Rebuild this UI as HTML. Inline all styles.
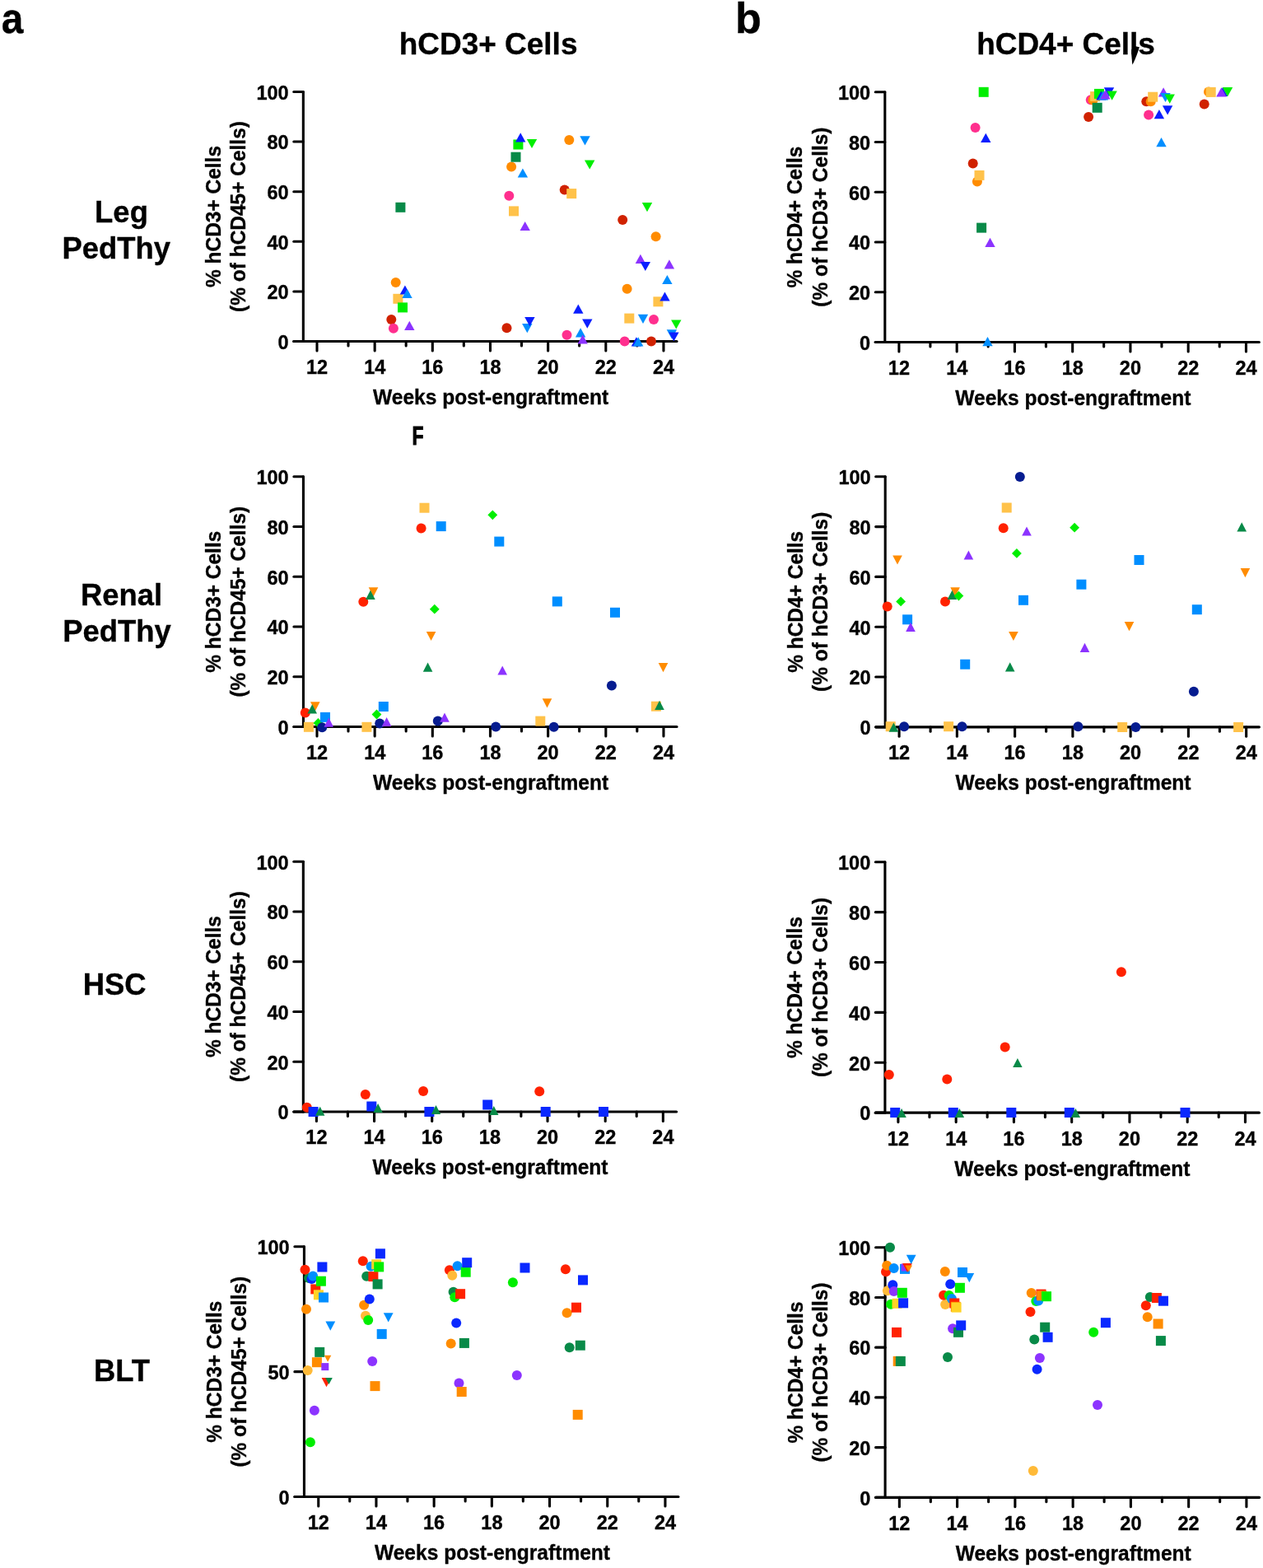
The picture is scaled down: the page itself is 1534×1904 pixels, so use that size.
<!DOCTYPE html><html><head><meta charset="utf-8"><title>Figure</title><style>html,body{margin:0;padding:0;background:#fff;}svg{display:block;}</style></head><body>
<svg width="1534" height="1904" viewBox="0 0 1534 1904">
<rect width="1534" height="1904" fill="#fff"/>
<g font-family="'Liberation Sans', Arial, Helvetica, sans-serif" font-weight="bold" stroke="#000" stroke-width="0.35" fill="#000">
<text transform="translate(1.8,40) scale(0.92,1)" font-size="52">a</text>
<text x="893.0" y="40" font-size="52">b</text>
<text transform="translate(593.1,66.4) scale(0.986,1)" font-size="37.5" text-anchor="middle">hCD3+ Cells</text>
<text transform="translate(1294.5,66.4) scale(0.986,1)" font-size="37.5" text-anchor="middle">hCD4+ Cells</text>
<text transform="translate(147.5,269.9) scale(0.985,1)" font-size="37" text-anchor="middle">Leg</text>
<text transform="translate(141.3,313.9) scale(0.985,1)" font-size="37" text-anchor="middle">PedThy</text>
<text transform="translate(147.5,734.6) scale(0.985,1)" font-size="37" text-anchor="middle">Renal</text>
<text transform="translate(142.0,779.2) scale(0.985,1)" font-size="37" text-anchor="middle">PedThy</text>
<text transform="translate(139.2,1208.4) scale(0.985,1)" font-size="37" text-anchor="middle">HSC</text>
<text transform="translate(148.0,1676.5) scale(0.985,1)" font-size="37" text-anchor="middle">BLT</text>
<text transform="translate(500.5,539.7) scale(0.74,1)" font-size="31" stroke-width="1.0">F</text>
</g>
<polygon points="1379.4,56.2 1383.9,57.2 1382.7,61 1380.8,66.5 1378.6,72 1376.5,76.6 1375.3,78.4 1374.9,74 1374.4,68 1374.2,64 1374.3,60" fill="#000"/>
<g stroke="#000" stroke-width="3.1" stroke-linecap="round" fill="none"><line x1="368.35" y1="111.45" x2="368.35" y2="414.55"/><line x1="356.80" y1="414.55" x2="368.35" y2="414.55"/><line x1="356.80" y1="353.93" x2="368.35" y2="353.93"/><line x1="356.80" y1="293.31" x2="368.35" y2="293.31"/><line x1="356.80" y1="232.69" x2="368.35" y2="232.69"/><line x1="356.80" y1="172.07" x2="368.35" y2="172.07"/><line x1="356.80" y1="111.45" x2="368.35" y2="111.45"/><line x1="356.80" y1="414.55" x2="822.05" y2="414.55"/><line x1="385.00" y1="414.55" x2="385.00" y2="426.00"/><line x1="423.00" y1="414.55" x2="423.00" y2="420.00"/><line x1="455.16" y1="414.55" x2="455.16" y2="426.00"/><line x1="493.16" y1="414.55" x2="493.16" y2="420.00"/><line x1="525.32" y1="414.55" x2="525.32" y2="426.00"/><line x1="563.32" y1="414.55" x2="563.32" y2="420.00"/><line x1="595.48" y1="414.55" x2="595.48" y2="426.00"/><line x1="633.48" y1="414.55" x2="633.48" y2="420.00"/><line x1="665.64" y1="414.55" x2="665.64" y2="426.00"/><line x1="703.64" y1="414.55" x2="703.64" y2="420.00"/><line x1="735.80" y1="414.55" x2="735.80" y2="426.00"/><line x1="773.80" y1="414.55" x2="773.80" y2="420.00"/><line x1="805.96" y1="414.55" x2="805.96" y2="426.00"/></g>
<g font-family="'Liberation Sans', Arial, Helvetica, sans-serif" font-weight="bold" stroke="#000" stroke-width="0.35" font-size="23.5" letter-spacing="0" fill="#000"><text x="350.70" y="423.85" text-anchor="end">0</text><text x="350.70" y="363.23" text-anchor="end">20</text><text x="350.70" y="302.61" text-anchor="end">40</text><text x="350.70" y="241.99" text-anchor="end">60</text><text x="350.70" y="181.37" text-anchor="end">80</text><text x="350.70" y="120.75" text-anchor="end">100</text><text x="385.0" y="453.9" text-anchor="middle">12</text><text x="455.2" y="453.9" text-anchor="middle">14</text><text x="525.3" y="453.9" text-anchor="middle">16</text><text x="595.5" y="453.9" text-anchor="middle">18</text><text x="665.6" y="453.9" text-anchor="middle">20</text><text x="735.8" y="453.9" text-anchor="middle">22</text><text x="806.0" y="453.9" text-anchor="middle">24</text></g>
<text font-family="'Liberation Sans', Arial, Helvetica, sans-serif" font-weight="bold" stroke="#000" stroke-width="0.35" font-size="26" transform="translate(596.1,490.9) scale(0.945,1)" text-anchor="middle">Weeks post-engraftment</text>
<g font-family="'Liberation Sans', Arial, Helvetica, sans-serif" font-weight="bold" stroke="#000" stroke-width="0.35" font-size="25.5" text-anchor="middle"><text transform="translate(267.8,263.0) rotate(-90) scale(0.96,1)">% hCD3+ Cells</text><text transform="translate(298.1,263.0) rotate(-90) scale(0.96,1)">(% of hCD45+ Cells)</text></g>
<g><circle cx="475.3" cy="387.9" r="6.00" fill="#D02200"/><circle cx="615.5" cy="398.2" r="6.00" fill="#D02200"/><circle cx="685.7" cy="230.6" r="6.00" fill="#D02200"/><circle cx="756.2" cy="267.0" r="6.00" fill="#D02200"/><circle cx="791.0" cy="414.6" r="6.00" fill="#D02200"/><circle cx="477.9" cy="398.7" r="6.00" fill="#FF2F8E"/><circle cx="618.3" cy="237.7" r="6.00" fill="#FF2F8E"/><circle cx="688.5" cy="406.7" r="6.00" fill="#FF2F8E"/><circle cx="794.0" cy="387.9" r="6.00" fill="#FF2F8E"/><circle cx="758.7" cy="414.6" r="6.00" fill="#FF2F8E"/><circle cx="480.7" cy="342.9" r="6.00" fill="#FF8C00"/><circle cx="621.1" cy="202.5" r="6.00" fill="#FF8C00"/><circle cx="691.3" cy="169.9" r="6.00" fill="#FF8C00"/><circle cx="796.6" cy="287.3" r="6.00" fill="#FF8C00"/><circle cx="761.6" cy="350.7" r="6.00" fill="#FF8C00"/><rect x="477.4" y="356.8" width="12.0" height="12.0" fill="#FFC24A"/><rect x="618.0" y="250.4" width="12.0" height="12.0" fill="#FFC24A"/><rect x="688.2" y="229.1" width="12.0" height="12.0" fill="#FFC24A"/><rect x="793.4" y="360.3" width="12.0" height="12.0" fill="#FFC24A"/><rect x="758.3" y="380.6" width="12.0" height="12.0" fill="#FFC24A"/><rect x="480.4" y="245.8" width="12.0" height="12.0" fill="#088A48"/><rect x="620.5" y="184.7" width="12.0" height="12.0" fill="#088A48"/><rect x="483.0" y="367.4" width="12.0" height="12.0" fill="#00EE00"/><rect x="623.4" y="169.5" width="12.0" height="12.0" fill="#00EE00"/><polygon points="491.9,346.4 498.1,357.6 485.7,357.6" fill="#0A1EFF"/><polygon points="632.2,161.2 638.4,172.4 626.0,172.4" fill="#0A1EFF"/><polygon points="702.3,369.6 708.5,380.8 696.1,380.8" fill="#0A1EFF"/><polygon points="807.5,354.4 813.7,365.6 801.3,365.6" fill="#0A1EFF"/><polygon points="772.9,409.3 779.1,420.5 766.7,420.5" fill="#0A1EFF"/><polygon points="494.5,350.9 500.7,362.1 488.3,362.1" fill="#008EFF"/><polygon points="634.9,204.4 641.1,215.6 628.7,215.6" fill="#008EFF"/><polygon points="705.1,398.3 711.3,409.5 698.9,409.5" fill="#008EFF"/><polygon points="810.4,333.9 816.6,345.1 804.2,345.1" fill="#008EFF"/><polygon points="775.2,409.3 781.4,420.5 769.0,420.5" fill="#008EFF"/><polygon points="497.3,389.7 503.5,400.9 491.1,400.9" fill="#8C33FF"/><polygon points="637.7,268.9 643.9,280.1 631.5,280.1" fill="#8C33FF"/><polygon points="707.7,406.4 713.9,417.6 701.5,417.6" fill="#8C33FF"/><polygon points="777.9,308.7 784.1,319.9 771.7,319.9" fill="#8C33FF"/><polygon points="812.9,315.3 819.1,326.5 806.7,326.5" fill="#8C33FF"/><polygon points="634.1,393.0 646.5,393.0 640.3,404.2" fill="#008EFF"/><polygon points="704.3,165.3 716.7,165.3 710.5,176.5" fill="#008EFF"/><polygon points="774.8,381.7 787.2,381.7 781.0,392.9" fill="#008EFF"/><polygon points="809.7,400.2 822.1,400.2 815.9,411.4" fill="#008EFF"/><polygon points="637.2,385.1 649.6,385.1 643.4,396.3" fill="#0A1EFF"/><polygon points="707.1,387.6 719.5,387.6 713.3,398.8" fill="#0A1EFF"/><polygon points="777.6,317.9 790.0,317.9 783.8,329.1" fill="#0A1EFF"/><polygon points="812.2,403.4 824.6,403.4 818.4,414.6" fill="#0A1EFF"/><polygon points="639.8,168.9 652.2,168.9 646.0,180.1" fill="#00EE00"/><polygon points="710.0,194.4 722.4,194.4 716.2,205.6" fill="#00EE00"/><polygon points="779.8,246.0 792.2,246.0 786.0,257.2" fill="#00EE00"/><polygon points="815.1,388.4 827.5,388.4 821.3,399.6" fill="#00EE00"/></g>
<g stroke="#000" stroke-width="3.1" stroke-linecap="round" fill="none"><line x1="1074.8" y1="111.75" x2="1074.8" y2="415.45"/><line x1="1063.25" y1="415.45" x2="1074.8" y2="415.45"/><line x1="1063.25" y1="354.71" x2="1074.8" y2="354.71"/><line x1="1063.25" y1="293.97" x2="1074.8" y2="293.97"/><line x1="1063.25" y1="233.23" x2="1074.8" y2="233.23"/><line x1="1063.25" y1="172.49" x2="1074.8" y2="172.49"/><line x1="1063.25" y1="111.75" x2="1074.8" y2="111.75"/><line x1="1063.25" y1="415.45" x2="1529.35" y2="415.45"/><line x1="1091.90" y1="415.45" x2="1091.90" y2="426.90"/><line x1="1129.90" y1="415.45" x2="1129.90" y2="420.90"/><line x1="1162.16" y1="415.45" x2="1162.16" y2="426.90"/><line x1="1200.16" y1="415.45" x2="1200.16" y2="420.90"/><line x1="1232.42" y1="415.45" x2="1232.42" y2="426.90"/><line x1="1270.42" y1="415.45" x2="1270.42" y2="420.90"/><line x1="1302.68" y1="415.45" x2="1302.68" y2="426.90"/><line x1="1340.68" y1="415.45" x2="1340.68" y2="420.90"/><line x1="1372.94" y1="415.45" x2="1372.94" y2="426.90"/><line x1="1410.94" y1="415.45" x2="1410.94" y2="420.90"/><line x1="1443.20" y1="415.45" x2="1443.20" y2="426.90"/><line x1="1481.20" y1="415.45" x2="1481.20" y2="420.90"/><line x1="1513.46" y1="415.45" x2="1513.46" y2="426.90"/></g>
<g font-family="'Liberation Sans', Arial, Helvetica, sans-serif" font-weight="bold" stroke="#000" stroke-width="0.35" font-size="23.5" letter-spacing="0" fill="#000"><text x="1057.15" y="424.75" text-anchor="end">0</text><text x="1057.15" y="364.01" text-anchor="end">20</text><text x="1057.15" y="303.27" text-anchor="end">40</text><text x="1057.15" y="242.53" text-anchor="end">60</text><text x="1057.15" y="181.79" text-anchor="end">80</text><text x="1057.15" y="121.05" text-anchor="end">100</text><text x="1091.9" y="454.8" text-anchor="middle">12</text><text x="1162.2" y="454.8" text-anchor="middle">14</text><text x="1232.4" y="454.8" text-anchor="middle">16</text><text x="1302.7" y="454.8" text-anchor="middle">18</text><text x="1372.9" y="454.8" text-anchor="middle">20</text><text x="1443.2" y="454.8" text-anchor="middle">22</text><text x="1513.5" y="454.8" text-anchor="middle">24</text></g>
<text font-family="'Liberation Sans', Arial, Helvetica, sans-serif" font-weight="bold" stroke="#000" stroke-width="0.35" font-size="26" transform="translate(1303.3,491.8) scale(0.945,1)" text-anchor="middle">Weeks post-engraftment</text>
<g font-family="'Liberation Sans', Arial, Helvetica, sans-serif" font-weight="bold" stroke="#000" stroke-width="0.35" font-size="25.5" text-anchor="middle"><text transform="translate(974.2,263.6) rotate(-90) scale(0.96,1)">% hCD4+ Cells</text><text transform="translate(1004.5,263.6) rotate(-90) scale(0.96,1)">(% of hCD3+ Cells)</text></g>
<g><circle cx="1181.7" cy="198.6" r="6.00" fill="#D02200"/><circle cx="1322.1" cy="142.0" r="6.00" fill="#D02200"/><circle cx="1392.3" cy="123.2" r="6.00" fill="#D02200"/><circle cx="1462.7" cy="126.4" r="6.00" fill="#D02200"/><circle cx="1184.6" cy="155.1" r="6.00" fill="#FF2F8E"/><circle cx="1324.8" cy="121.2" r="6.00" fill="#FF2F8E"/><circle cx="1395.1" cy="139.6" r="6.00" fill="#FF2F8E"/><circle cx="1186.9" cy="220.6" r="6.00" fill="#FF8C00"/><circle cx="1327.5" cy="121.6" r="6.00" fill="#FF8C00"/><circle cx="1397.7" cy="123.2" r="6.00" fill="#FF8C00"/><circle cx="1468.0" cy="111.6" r="6.00" fill="#FF8C00"/><rect x="1183.5" y="206.9" width="12.0" height="12.0" fill="#FFC24A"/><rect x="1324.1" y="111.1" width="12.0" height="12.0" fill="#FFC24A"/><rect x="1394.2" y="111.7" width="12.0" height="12.0" fill="#FFC24A"/><rect x="1464.7" y="105.9" width="12.0" height="12.0" fill="#FFC24A"/><rect x="1186.1" y="270.6" width="12.0" height="12.0" fill="#088A48"/><rect x="1326.7" y="124.8" width="12.0" height="12.0" fill="#088A48"/><rect x="1188.7" y="105.8" width="12.0" height="12.0" fill="#00EE00"/><rect x="1329.0" y="107.9" width="12.0" height="12.0" fill="#00EE00"/><polygon points="1197.3,161.7 1203.5,172.9 1191.1,172.9" fill="#0A1EFF"/><polygon points="1337.5,110.4 1343.7,121.6 1331.3,121.6" fill="#0A1EFF"/><polygon points="1407.9,133.1 1414.1,144.3 1401.7,144.3" fill="#0A1EFF"/><polygon points="1485.0,105.9 1491.2,117.1 1478.8,117.1" fill="#0A1EFF"/><polygon points="1199.5,409.1 1205.7,420.3 1193.3,420.3" fill="#008EFF"/><polygon points="1340.0,110.2 1346.2,121.4 1333.8,121.4" fill="#008EFF"/><polygon points="1410.5,167.1 1416.7,178.3 1404.3,178.3" fill="#008EFF"/><polygon points="1202.5,288.7 1208.7,299.9 1196.3,299.9" fill="#8C33FF"/><polygon points="1342.4,109.2 1348.6,120.4 1336.2,120.4" fill="#8C33FF"/><polygon points="1413.1,106.3 1419.3,117.5 1406.9,117.5" fill="#8C33FF"/><polygon points="1483.4,106.3 1489.6,117.5 1477.2,117.5" fill="#8C33FF"/><polygon points="1409.3,112.9 1421.7,112.9 1415.5,124.1" fill="#008EFF"/><polygon points="1340.8,106.3 1353.2,106.3 1347.0,117.5" fill="#0A1EFF"/><polygon points="1411.9,128.3 1424.3,128.3 1418.1,139.5" fill="#0A1EFF"/><polygon points="1344.4,110.5 1356.8,110.5 1350.6,121.7" fill="#00EE00"/><polygon points="1414.5,114.6 1426.9,114.6 1420.7,125.8" fill="#00EE00"/><polygon points="1484.8,106.0 1497.2,106.0 1491.0,117.2" fill="#00EE00"/></g>
<g stroke="#000" stroke-width="3.1" stroke-linecap="round" fill="none"><line x1="368.45" y1="578.80" x2="368.45" y2="882.55"/><line x1="356.90" y1="882.55" x2="368.45" y2="882.55"/><line x1="356.90" y1="821.80" x2="368.45" y2="821.80"/><line x1="356.90" y1="761.05" x2="368.45" y2="761.05"/><line x1="356.90" y1="700.30" x2="368.45" y2="700.30"/><line x1="356.90" y1="639.55" x2="368.45" y2="639.55"/><line x1="356.90" y1="578.80" x2="368.45" y2="578.80"/><line x1="356.90" y1="882.55" x2="822.05" y2="882.55"/><line x1="385.00" y1="882.55" x2="385.00" y2="894.00"/><line x1="423.00" y1="882.55" x2="423.00" y2="888.00"/><line x1="455.16" y1="882.55" x2="455.16" y2="894.00"/><line x1="493.16" y1="882.55" x2="493.16" y2="888.00"/><line x1="525.32" y1="882.55" x2="525.32" y2="894.00"/><line x1="563.32" y1="882.55" x2="563.32" y2="888.00"/><line x1="595.48" y1="882.55" x2="595.48" y2="894.00"/><line x1="633.48" y1="882.55" x2="633.48" y2="888.00"/><line x1="665.64" y1="882.55" x2="665.64" y2="894.00"/><line x1="703.64" y1="882.55" x2="703.64" y2="888.00"/><line x1="735.80" y1="882.55" x2="735.80" y2="894.00"/><line x1="773.80" y1="882.55" x2="773.80" y2="888.00"/><line x1="805.96" y1="882.55" x2="805.96" y2="894.00"/></g>
<g font-family="'Liberation Sans', Arial, Helvetica, sans-serif" font-weight="bold" stroke="#000" stroke-width="0.35" font-size="23.5" letter-spacing="0" fill="#000"><text x="350.70" y="891.85" text-anchor="end">0</text><text x="350.70" y="831.10" text-anchor="end">20</text><text x="350.70" y="770.35" text-anchor="end">40</text><text x="350.70" y="709.60" text-anchor="end">60</text><text x="350.70" y="648.85" text-anchor="end">80</text><text x="350.70" y="588.10" text-anchor="end">100</text><text x="385.0" y="921.9" text-anchor="middle">12</text><text x="455.2" y="921.9" text-anchor="middle">14</text><text x="525.3" y="921.9" text-anchor="middle">16</text><text x="595.5" y="921.9" text-anchor="middle">18</text><text x="665.6" y="921.9" text-anchor="middle">20</text><text x="735.8" y="921.9" text-anchor="middle">22</text><text x="806.0" y="921.9" text-anchor="middle">24</text></g>
<text font-family="'Liberation Sans', Arial, Helvetica, sans-serif" font-weight="bold" stroke="#000" stroke-width="0.35" font-size="26" transform="translate(596.1,958.8) scale(0.945,1)" text-anchor="middle">Weeks post-engraftment</text>
<g font-family="'Liberation Sans', Arial, Helvetica, sans-serif" font-weight="bold" stroke="#000" stroke-width="0.35" font-size="25.5" text-anchor="middle"><text transform="translate(267.9,730.7) rotate(-90) scale(0.96,1)">% hCD3+ Cells</text><text transform="translate(298.1,730.7) rotate(-90) scale(0.96,1)">(% of hCD45+ Cells)</text></g>
<g><circle cx="441.3" cy="730.7" r="6.00" fill="#FF2200"/><circle cx="370.8" cy="865.6" r="6.00" fill="#FF2200"/><circle cx="511.6" cy="641.5" r="6.00" fill="#FF2200"/><rect x="368.9" y="876.8" width="12.0" height="12.0" fill="#FFC24A"/><rect x="439.4" y="876.8" width="12.0" height="12.0" fill="#FFC24A"/><rect x="509.5" y="610.7" width="12.0" height="12.0" fill="#FFC24A"/><rect x="650.3" y="869.6" width="12.0" height="12.0" fill="#FFC24A"/><rect x="790.9" y="851.7" width="12.0" height="12.0" fill="#FFC24A"/><polygon points="447.7,713.3 459.3,713.3 453.5,724.5" fill="#FF8C00"/><polygon points="377.0,852.2 388.6,852.2 382.8,863.4" fill="#FF8C00"/><polygon points="517.8,766.9 529.4,766.9 523.6,778.1" fill="#FF8C00"/><polygon points="799.7,805.1 811.3,805.1 805.5,816.3" fill="#FF8C00"/><polygon points="658.7,848.3 670.3,848.3 664.5,859.5" fill="#FF8C00"/><polygon points="449.9,716.7 455.7,727.9 444.1,727.9" fill="#088A48"/><polygon points="379.2,855.2 385.0,866.4 373.4,866.4" fill="#088A48"/><polygon points="519.6,804.5 525.4,815.7 513.8,815.7" fill="#088A48"/><polygon points="801.0,850.8 806.8,862.0 795.2,862.0" fill="#088A48"/><polygon points="386.4,872.0 392.3,877.9 386.4,883.8 380.5,877.9" fill="#00EE00"/><polygon points="457.5,861.6 463.4,867.5 457.5,873.4 451.6,867.5" fill="#00EE00"/><polygon points="598.3,619.4 604.2,625.3 598.3,631.2 592.4,625.3" fill="#00EE00"/><polygon points="527.8,733.8 533.7,739.7 527.8,745.6 521.9,739.7" fill="#00EE00"/><rect x="389.0" y="864.9" width="12.0" height="12.0" fill="#008EFF"/><rect x="459.8" y="852.0" width="12.0" height="12.0" fill="#008EFF"/><rect x="529.7" y="633.1" width="12.0" height="12.0" fill="#008EFF"/><rect x="600.3" y="651.6" width="12.0" height="12.0" fill="#008EFF"/><rect x="670.8" y="724.4" width="12.0" height="12.0" fill="#008EFF"/><rect x="741.0" y="737.8" width="12.0" height="12.0" fill="#008EFF"/><circle cx="391.2" cy="883.3" r="6.00" fill="#061C90"/><circle cx="461.2" cy="878.5" r="6.00" fill="#061C90"/><circle cx="531.8" cy="875.5" r="6.00" fill="#061C90"/><circle cx="602.2" cy="882.6" r="6.00" fill="#061C90"/><circle cx="742.9" cy="832.5" r="6.00" fill="#061C90"/><circle cx="672.7" cy="882.8" r="6.00" fill="#061C90"/><polygon points="399.3,871.5 405.1,882.7 393.5,882.7" fill="#8C33FF"/><polygon points="469.6,870.9 475.4,882.1 463.8,882.1" fill="#8C33FF"/><polygon points="610.2,808.4 616.0,819.6 604.4,819.6" fill="#8C33FF"/><polygon points="540.0,865.5 545.8,876.7 534.2,876.7" fill="#8C33FF"/></g>
<g stroke="#000" stroke-width="3.1" stroke-linecap="round" fill="none"><line x1="1075.2" y1="578.80" x2="1075.2" y2="882.85"/><line x1="1063.65" y1="882.85" x2="1075.2" y2="882.85"/><line x1="1063.65" y1="822.04" x2="1075.2" y2="822.04"/><line x1="1063.65" y1="761.23" x2="1075.2" y2="761.23"/><line x1="1063.65" y1="700.42" x2="1075.2" y2="700.42"/><line x1="1063.65" y1="639.61" x2="1075.2" y2="639.61"/><line x1="1063.65" y1="578.80" x2="1075.2" y2="578.80"/><line x1="1063.65" y1="882.85" x2="1529.45" y2="882.85"/><line x1="1092.10" y1="882.85" x2="1092.10" y2="894.30"/><line x1="1130.10" y1="882.85" x2="1130.10" y2="888.30"/><line x1="1162.36" y1="882.85" x2="1162.36" y2="894.30"/><line x1="1200.36" y1="882.85" x2="1200.36" y2="888.30"/><line x1="1232.62" y1="882.85" x2="1232.62" y2="894.30"/><line x1="1270.62" y1="882.85" x2="1270.62" y2="888.30"/><line x1="1302.88" y1="882.85" x2="1302.88" y2="894.30"/><line x1="1340.88" y1="882.85" x2="1340.88" y2="888.30"/><line x1="1373.14" y1="882.85" x2="1373.14" y2="894.30"/><line x1="1411.14" y1="882.85" x2="1411.14" y2="888.30"/><line x1="1443.40" y1="882.85" x2="1443.40" y2="894.30"/><line x1="1481.40" y1="882.85" x2="1481.40" y2="888.30"/><line x1="1513.66" y1="882.85" x2="1513.66" y2="894.30"/></g>
<g font-family="'Liberation Sans', Arial, Helvetica, sans-serif" font-weight="bold" stroke="#000" stroke-width="0.35" font-size="23.5" letter-spacing="0" fill="#000"><text x="1057.70" y="892.15" text-anchor="end">0</text><text x="1057.70" y="831.34" text-anchor="end">20</text><text x="1057.70" y="770.53" text-anchor="end">40</text><text x="1057.70" y="709.72" text-anchor="end">60</text><text x="1057.70" y="648.91" text-anchor="end">80</text><text x="1057.70" y="588.10" text-anchor="end">100</text><text x="1092.1" y="922.2" text-anchor="middle">12</text><text x="1162.4" y="922.2" text-anchor="middle">14</text><text x="1232.6" y="922.2" text-anchor="middle">16</text><text x="1302.9" y="922.2" text-anchor="middle">18</text><text x="1373.1" y="922.2" text-anchor="middle">20</text><text x="1443.4" y="922.2" text-anchor="middle">22</text><text x="1513.7" y="922.2" text-anchor="middle">24</text></g>
<text font-family="'Liberation Sans', Arial, Helvetica, sans-serif" font-weight="bold" stroke="#000" stroke-width="0.35" font-size="26" transform="translate(1303.5,959.1) scale(0.945,1)" text-anchor="middle">Weeks post-engraftment</text>
<g font-family="'Liberation Sans', Arial, Helvetica, sans-serif" font-weight="bold" stroke="#000" stroke-width="0.35" font-size="25.5" text-anchor="middle"><text transform="translate(974.6,730.8) rotate(-90) scale(0.96,1)">% hCD4+ Cells</text><text transform="translate(1004.9,730.8) rotate(-90) scale(0.96,1)">(% of hCD3+ Cells)</text></g>
<g><circle cx="1077.7" cy="736.5" r="6.00" fill="#FF2200"/><circle cx="1148.0" cy="730.6" r="6.00" fill="#FF2200"/><circle cx="1218.7" cy="641.3" r="6.00" fill="#FF2200"/><rect x="1075.7" y="876.2" width="12.0" height="12.0" fill="#FFC24A"/><rect x="1146.1" y="876.2" width="12.0" height="12.0" fill="#FFC24A"/><rect x="1216.7" y="610.5" width="12.0" height="12.0" fill="#FFC24A"/><rect x="1357.2" y="877.0" width="12.0" height="12.0" fill="#FFC24A"/><rect x="1498.1" y="877.0" width="12.0" height="12.0" fill="#FFC24A"/><polygon points="1084.2,674.4 1095.8,674.4 1090.0,685.6" fill="#FF8C00"/><polygon points="1154.3,713.3 1165.9,713.3 1160.1,724.5" fill="#FF8C00"/><polygon points="1225.1,766.9 1236.7,766.9 1230.9,778.1" fill="#FF8C00"/><polygon points="1506.6,690.0 1518.2,690.0 1512.4,701.2" fill="#FF8C00"/><polygon points="1365.7,755.1 1377.3,755.1 1371.5,766.3" fill="#FF8C00"/><polygon points="1085.4,877.5 1091.2,888.7 1079.6,888.7" fill="#088A48"/><polygon points="1156.4,716.7 1162.2,727.9 1150.6,727.9" fill="#088A48"/><polygon points="1226.7,804.2 1232.5,815.4 1220.9,815.4" fill="#088A48"/><polygon points="1508.2,634.3 1514.0,645.5 1502.4,645.5" fill="#088A48"/><polygon points="1094.1,724.5 1100.0,730.4 1094.1,736.3 1088.2,730.4" fill="#00EE00"/><polygon points="1164.4,717.7 1170.3,723.6 1164.4,729.5 1158.5,723.6" fill="#00EE00"/><polygon points="1234.9,666.0 1240.8,671.9 1234.9,677.8 1229.0,671.9" fill="#00EE00"/><polygon points="1305.1,634.8 1311.0,640.7 1305.1,646.6 1299.2,640.7" fill="#00EE00"/><rect x="1096.1" y="746.3" width="12.0" height="12.0" fill="#008EFF"/><rect x="1166.2" y="800.7" width="12.0" height="12.0" fill="#008EFF"/><rect x="1307.4" y="703.7" width="12.0" height="12.0" fill="#008EFF"/><rect x="1237.0" y="722.8" width="12.0" height="12.0" fill="#008EFF"/><rect x="1377.5" y="674.0" width="12.0" height="12.0" fill="#008EFF"/><rect x="1447.8" y="734.2" width="12.0" height="12.0" fill="#008EFF"/><circle cx="1098.1" cy="882.2" r="6.00" fill="#061C90"/><circle cx="1168.5" cy="882.2" r="6.00" fill="#061C90"/><circle cx="1238.8" cy="578.9" r="6.00" fill="#061C90"/><circle cx="1309.4" cy="882.2" r="6.00" fill="#061C90"/><circle cx="1449.9" cy="839.7" r="6.00" fill="#061C90"/><circle cx="1379.4" cy="883.0" r="6.00" fill="#061C90"/><polygon points="1106.0,755.7 1111.8,766.9 1100.2,766.9" fill="#8C33FF"/><polygon points="1176.4,668.4 1182.2,679.6 1170.6,679.6" fill="#8C33FF"/><polygon points="1247.0,639.4 1252.8,650.6 1241.2,650.6" fill="#8C33FF"/><polygon points="1317.5,780.7 1323.3,791.9 1311.7,791.9" fill="#8C33FF"/></g>
<g stroke="#000" stroke-width="3.1" stroke-linecap="round" fill="none"><line x1="368.35" y1="1046.30" x2="368.35" y2="1349.95"/><line x1="356.80" y1="1349.95" x2="368.35" y2="1349.95"/><line x1="356.80" y1="1289.22" x2="368.35" y2="1289.22"/><line x1="356.80" y1="1228.49" x2="368.35" y2="1228.49"/><line x1="356.80" y1="1167.76" x2="368.35" y2="1167.76"/><line x1="356.80" y1="1107.03" x2="368.35" y2="1107.03"/><line x1="356.80" y1="1046.30" x2="368.35" y2="1046.30"/><line x1="356.80" y1="1349.95" x2="821.65" y2="1349.95"/><line x1="384.40" y1="1349.95" x2="384.40" y2="1361.40"/><line x1="422.40" y1="1349.95" x2="422.40" y2="1355.40"/><line x1="454.56" y1="1349.95" x2="454.56" y2="1361.40"/><line x1="492.56" y1="1349.95" x2="492.56" y2="1355.40"/><line x1="524.72" y1="1349.95" x2="524.72" y2="1361.40"/><line x1="562.72" y1="1349.95" x2="562.72" y2="1355.40"/><line x1="594.88" y1="1349.95" x2="594.88" y2="1361.40"/><line x1="632.88" y1="1349.95" x2="632.88" y2="1355.40"/><line x1="665.04" y1="1349.95" x2="665.04" y2="1361.40"/><line x1="703.04" y1="1349.95" x2="703.04" y2="1355.40"/><line x1="735.20" y1="1349.95" x2="735.20" y2="1361.40"/><line x1="773.20" y1="1349.95" x2="773.20" y2="1355.40"/><line x1="805.36" y1="1349.95" x2="805.36" y2="1361.40"/></g>
<g font-family="'Liberation Sans', Arial, Helvetica, sans-serif" font-weight="bold" stroke="#000" stroke-width="0.35" font-size="23.5" letter-spacing="0" fill="#000"><text x="350.70" y="1359.25" text-anchor="end">0</text><text x="350.70" y="1298.52" text-anchor="end">20</text><text x="350.70" y="1237.79" text-anchor="end">40</text><text x="350.70" y="1177.06" text-anchor="end">60</text><text x="350.70" y="1116.33" text-anchor="end">80</text><text x="350.70" y="1055.60" text-anchor="end">100</text><text x="384.4" y="1389.4" text-anchor="middle">12</text><text x="454.6" y="1389.4" text-anchor="middle">14</text><text x="524.7" y="1389.4" text-anchor="middle">16</text><text x="594.9" y="1389.4" text-anchor="middle">18</text><text x="665.0" y="1389.4" text-anchor="middle">20</text><text x="735.2" y="1389.4" text-anchor="middle">22</text><text x="805.4" y="1389.4" text-anchor="middle">24</text></g>
<text font-family="'Liberation Sans', Arial, Helvetica, sans-serif" font-weight="bold" stroke="#000" stroke-width="0.35" font-size="26" transform="translate(595.5,1426.2) scale(0.945,1)" text-anchor="middle">Weeks post-engraftment</text>
<g font-family="'Liberation Sans', Arial, Helvetica, sans-serif" font-weight="bold" stroke="#000" stroke-width="0.35" font-size="25.5" text-anchor="middle"><text transform="translate(267.8,1198.1) rotate(-90) scale(0.96,1)">% hCD3+ Cells</text><text transform="translate(298.1,1198.1) rotate(-90) scale(0.96,1)">(% of hCD45+ Cells)</text></g>
<g><circle cx="372.8" cy="1344.8" r="6.00" fill="#FF2200"/><circle cx="443.8" cy="1329.1" r="6.00" fill="#FF2200"/><circle cx="514.1" cy="1325.0" r="6.00" fill="#FF2200"/><circle cx="655.2" cy="1325.2" r="6.00" fill="#FF2200"/><rect x="374.6" y="1344.0" width="12.0" height="12.0" fill="#0A28FF"/><rect x="445.3" y="1337.5" width="12.0" height="12.0" fill="#0A28FF"/><rect x="515.4" y="1344.0" width="12.0" height="12.0" fill="#0A28FF"/><rect x="586.2" y="1335.5" width="12.0" height="12.0" fill="#0A28FF"/><rect x="656.7" y="1344.0" width="12.0" height="12.0" fill="#0A28FF"/><rect x="727.0" y="1344.0" width="12.0" height="12.0" fill="#0A28FF"/><polygon points="388.7,1343.8 394.4,1354.8 383.0,1354.8" fill="#088A48"/><polygon points="459.1,1339.9 464.8,1350.9 453.4,1350.9" fill="#088A48"/><polygon points="529.5,1341.9 535.2,1352.9 523.8,1352.9" fill="#088A48"/><polygon points="599.8,1343.0 605.5,1354.0 594.1,1354.0" fill="#088A48"/></g>
<g stroke="#000" stroke-width="3.1" stroke-linecap="round" fill="none"><line x1="1074.9" y1="1046.80" x2="1074.9" y2="1351.15"/><line x1="1063.35" y1="1351.15" x2="1074.9" y2="1351.15"/><line x1="1063.35" y1="1290.28" x2="1074.9" y2="1290.28"/><line x1="1063.35" y1="1229.41" x2="1074.9" y2="1229.41"/><line x1="1063.35" y1="1168.54" x2="1074.9" y2="1168.54"/><line x1="1063.35" y1="1107.67" x2="1074.9" y2="1107.67"/><line x1="1063.35" y1="1046.80" x2="1074.9" y2="1046.80"/><line x1="1063.35" y1="1351.15" x2="1529.35" y2="1351.15"/><line x1="1090.90" y1="1351.15" x2="1090.90" y2="1362.60"/><line x1="1128.90" y1="1351.15" x2="1128.90" y2="1356.60"/><line x1="1161.16" y1="1351.15" x2="1161.16" y2="1362.60"/><line x1="1199.16" y1="1351.15" x2="1199.16" y2="1356.60"/><line x1="1231.42" y1="1351.15" x2="1231.42" y2="1362.60"/><line x1="1269.42" y1="1351.15" x2="1269.42" y2="1356.60"/><line x1="1301.68" y1="1351.15" x2="1301.68" y2="1362.60"/><line x1="1339.68" y1="1351.15" x2="1339.68" y2="1356.60"/><line x1="1371.94" y1="1351.15" x2="1371.94" y2="1362.60"/><line x1="1409.94" y1="1351.15" x2="1409.94" y2="1356.60"/><line x1="1442.20" y1="1351.15" x2="1442.20" y2="1362.60"/><line x1="1480.20" y1="1351.15" x2="1480.20" y2="1356.60"/><line x1="1512.46" y1="1351.15" x2="1512.46" y2="1362.60"/></g>
<g font-family="'Liberation Sans', Arial, Helvetica, sans-serif" font-weight="bold" stroke="#000" stroke-width="0.35" font-size="23.5" letter-spacing="0" fill="#000"><text x="1057.25" y="1360.45" text-anchor="end">0</text><text x="1057.25" y="1299.58" text-anchor="end">20</text><text x="1057.25" y="1238.71" text-anchor="end">40</text><text x="1057.25" y="1177.84" text-anchor="end">60</text><text x="1057.25" y="1116.97" text-anchor="end">80</text><text x="1057.25" y="1056.10" text-anchor="end">100</text><text x="1090.9" y="1390.6" text-anchor="middle">12</text><text x="1161.2" y="1390.6" text-anchor="middle">14</text><text x="1231.4" y="1390.6" text-anchor="middle">16</text><text x="1301.7" y="1390.6" text-anchor="middle">18</text><text x="1371.9" y="1390.6" text-anchor="middle">20</text><text x="1442.2" y="1390.6" text-anchor="middle">22</text><text x="1512.5" y="1390.6" text-anchor="middle">24</text></g>
<text font-family="'Liberation Sans', Arial, Helvetica, sans-serif" font-weight="bold" stroke="#000" stroke-width="0.35" font-size="26" transform="translate(1302.3,1427.5) scale(0.945,1)" text-anchor="middle">Weeks post-engraftment</text>
<g font-family="'Liberation Sans', Arial, Helvetica, sans-serif" font-weight="bold" stroke="#000" stroke-width="0.35" font-size="25.5" text-anchor="middle"><text transform="translate(974.3,1199.0) rotate(-90) scale(0.96,1)">% hCD4+ Cells</text><text transform="translate(1004.6,1199.0) rotate(-90) scale(0.96,1)">(% of hCD3+ Cells)</text></g>
<g><circle cx="1079.8" cy="1305.1" r="6.00" fill="#FF2200"/><circle cx="1150.3" cy="1310.6" r="6.00" fill="#FF2200"/><circle cx="1220.7" cy="1271.4" r="6.00" fill="#FF2200"/><circle cx="1361.9" cy="1180.3" r="6.00" fill="#FF2200"/><rect x="1081.2" y="1345.0" width="12.0" height="12.0" fill="#0A28FF"/><rect x="1151.8" y="1345.0" width="12.0" height="12.0" fill="#0A28FF"/><rect x="1222.3" y="1345.0" width="12.0" height="12.0" fill="#0A28FF"/><rect x="1292.8" y="1345.0" width="12.0" height="12.0" fill="#0A28FF"/><rect x="1433.5" y="1345.0" width="12.0" height="12.0" fill="#0A28FF"/><polygon points="1095.1,1345.9 1100.8,1356.9 1089.4,1356.9" fill="#088A48"/><polygon points="1165.4,1345.9 1171.1,1356.9 1159.7,1356.9" fill="#088A48"/><polygon points="1235.9,1284.9 1241.6,1295.9 1230.2,1295.9" fill="#088A48"/><polygon points="1306.4,1345.9 1312.1,1356.9 1300.7,1356.9" fill="#088A48"/></g>
<g stroke="#000" stroke-width="3.1" stroke-linecap="round" fill="none"><line x1="369.45" y1="1513.80" x2="369.45" y2="1817.55"/><line x1="357.90" y1="1817.55" x2="369.45" y2="1817.55"/><line x1="357.90" y1="1665.67" x2="369.45" y2="1665.67"/><line x1="357.90" y1="1513.80" x2="369.45" y2="1513.80"/><line x1="357.90" y1="1817.55" x2="823.95" y2="1817.55"/><line x1="386.75" y1="1817.55" x2="386.75" y2="1829.00"/><line x1="424.75" y1="1817.55" x2="424.75" y2="1823.00"/><line x1="456.95" y1="1817.55" x2="456.95" y2="1829.00"/><line x1="494.95" y1="1817.55" x2="494.95" y2="1823.00"/><line x1="527.15" y1="1817.55" x2="527.15" y2="1829.00"/><line x1="565.15" y1="1817.55" x2="565.15" y2="1823.00"/><line x1="597.35" y1="1817.55" x2="597.35" y2="1829.00"/><line x1="635.35" y1="1817.55" x2="635.35" y2="1823.00"/><line x1="667.55" y1="1817.55" x2="667.55" y2="1829.00"/><line x1="705.55" y1="1817.55" x2="705.55" y2="1823.00"/><line x1="737.75" y1="1817.55" x2="737.75" y2="1829.00"/><line x1="775.75" y1="1817.55" x2="775.75" y2="1823.00"/><line x1="807.95" y1="1817.55" x2="807.95" y2="1829.00"/></g>
<g font-family="'Liberation Sans', Arial, Helvetica, sans-serif" font-weight="bold" stroke="#000" stroke-width="0.35" font-size="23.5" letter-spacing="0" fill="#000"><text x="351.70" y="1826.85" text-anchor="end">0</text><text x="351.70" y="1674.97" text-anchor="end">50</text><text x="351.70" y="1523.10" text-anchor="end">100</text><text x="386.8" y="1857.0" text-anchor="middle">12</text><text x="456.9" y="1857.0" text-anchor="middle">14</text><text x="527.1" y="1857.0" text-anchor="middle">16</text><text x="597.4" y="1857.0" text-anchor="middle">18</text><text x="667.5" y="1857.0" text-anchor="middle">20</text><text x="737.8" y="1857.0" text-anchor="middle">22</text><text x="808.0" y="1857.0" text-anchor="middle">24</text></g>
<text font-family="'Liberation Sans', Arial, Helvetica, sans-serif" font-weight="bold" stroke="#000" stroke-width="0.35" font-size="26" transform="translate(598.0,1893.8) scale(0.945,1)" text-anchor="middle">Weeks post-engraftment</text>
<g font-family="'Liberation Sans', Arial, Helvetica, sans-serif" font-weight="bold" stroke="#000" stroke-width="0.35" font-size="25.5" text-anchor="middle"><text transform="translate(268.9,1665.7) rotate(-90) scale(0.96,1)">% hCD3+ Cells</text><text transform="translate(299.1,1665.7) rotate(-90) scale(0.96,1)">(% of hCD45+ Cells)</text></g>
<g><circle cx="375.1" cy="1551.9" r="6.00" fill="#088A48"/><circle cx="445.2" cy="1549.8" r="6.00" fill="#088A48"/><circle cx="550.6" cy="1568.7" r="6.00" fill="#088A48"/><circle cx="691.7" cy="1636.3" r="6.00" fill="#088A48"/><circle cx="370.5" cy="1541.8" r="6.00" fill="#FF2200"/><circle cx="440.8" cy="1531.2" r="6.00" fill="#FF2200"/><circle cx="545.9" cy="1542.2" r="6.00" fill="#FF2200"/><circle cx="686.9" cy="1541.3" r="6.00" fill="#FF2200"/><circle cx="373.7" cy="1664.1" r="6.00" fill="#FFBA38"/><circle cx="444.0" cy="1597.7" r="6.00" fill="#FFBA38"/><circle cx="549.3" cy="1548.8" r="6.00" fill="#FFBA38"/><circle cx="372.0" cy="1589.8" r="6.00" fill="#FF8C00"/><circle cx="442.1" cy="1584.8" r="6.00" fill="#FF8C00"/><circle cx="547.7" cy="1631.5" r="6.00" fill="#FF8C00"/><circle cx="688.6" cy="1594.3" r="6.00" fill="#FF8C00"/><circle cx="378.5" cy="1553.0" r="6.00" fill="#0A28FF"/><circle cx="448.8" cy="1577.5" r="6.00" fill="#0A28FF"/><circle cx="554.2" cy="1606.5" r="6.00" fill="#0A28FF"/><circle cx="376.9" cy="1751.3" r="6.00" fill="#00EE00"/><circle cx="447.2" cy="1603.0" r="6.00" fill="#00EE00"/><circle cx="552.3" cy="1575.3" r="6.00" fill="#00EE00"/><circle cx="622.9" cy="1557.2" r="6.00" fill="#00EE00"/><circle cx="380.1" cy="1549.4" r="6.00" fill="#008EFF"/><circle cx="450.6" cy="1537.8" r="6.00" fill="#008EFF"/><circle cx="555.6" cy="1537.2" r="6.00" fill="#008EFF"/><circle cx="381.9" cy="1712.7" r="6.00" fill="#8C33FF"/><circle cx="452.2" cy="1653.1" r="6.00" fill="#8C33FF"/><circle cx="557.5" cy="1679.6" r="6.00" fill="#8C33FF"/><circle cx="627.8" cy="1670.0" r="6.00" fill="#8C33FF"/><rect x="377.3" y="1559.4" width="12.0" height="12.0" fill="#FF2200"/><rect x="447.4" y="1544.1" width="12.0" height="12.0" fill="#FF2200"/><rect x="553.1" y="1565.2" width="12.0" height="12.0" fill="#FF2200"/><rect x="694.0" y="1581.7" width="12.0" height="12.0" fill="#FF2200"/><rect x="378.9" y="1648.2" width="12.0" height="12.0" fill="#FF8C00"/><rect x="449.5" y="1677.1" width="12.0" height="12.0" fill="#FF8C00"/><rect x="554.7" y="1684.0" width="12.0" height="12.0" fill="#FF8C00"/><rect x="695.7" y="1711.9" width="12.0" height="12.0" fill="#FF8C00"/><rect x="380.9" y="1566.3" width="12.0" height="12.0" fill="#FFD326"/><rect x="451.2" y="1529.3" width="12.0" height="12.0" fill="#FFD326"/><rect x="382.2" y="1635.9" width="12.0" height="12.0" fill="#088A48"/><rect x="452.6" y="1553.4" width="12.0" height="12.0" fill="#088A48"/><rect x="557.9" y="1624.9" width="12.0" height="12.0" fill="#088A48"/><rect x="698.8" y="1627.7" width="12.0" height="12.0" fill="#088A48"/><rect x="383.9" y="1549.7" width="12.0" height="12.0" fill="#00EE00"/><rect x="454.2" y="1532.4" width="12.0" height="12.0" fill="#00EE00"/><rect x="559.7" y="1538.7" width="12.0" height="12.0" fill="#00EE00"/><rect x="385.4" y="1532.5" width="12.0" height="12.0" fill="#0A28FF"/><rect x="455.9" y="1516.3" width="12.0" height="12.0" fill="#0A28FF"/><rect x="561.2" y="1527.2" width="12.0" height="12.0" fill="#0A28FF"/><rect x="631.5" y="1533.5" width="12.0" height="12.0" fill="#0A28FF"/><rect x="702.0" y="1548.4" width="12.0" height="12.0" fill="#0A28FF"/><rect x="387.0" y="1569.5" width="12.0" height="12.0" fill="#008EFF"/><rect x="457.7" y="1613.9" width="12.0" height="12.0" fill="#008EFF"/><rect x="390.3" y="1655.1" width="9.0" height="9.0" fill="#8C33FF"/><polygon points="390.6,1673.0 402.4,1673.0 396.5,1684.2" fill="#FF2200"/><polygon points="395.2,1673.0 403.8,1673.0 399.5,1681.0" fill="#088A48"/><polygon points="393.9,1645.7 402.3,1645.7 398.1,1653.7" fill="#FF8C00"/><polygon points="395.4,1604.5 407.2,1604.5 401.3,1615.7" fill="#008EFF"/><polygon points="465.8,1594.2 477.6,1594.2 471.7,1605.4" fill="#008EFF"/></g>
<g stroke="#000" stroke-width="3.1" stroke-linecap="round" fill="none"><line x1="1075.1" y1="1514.70" x2="1075.1" y2="1818.35"/><line x1="1063.55" y1="1818.35" x2="1075.1" y2="1818.35"/><line x1="1063.55" y1="1757.62" x2="1075.1" y2="1757.62"/><line x1="1063.55" y1="1696.89" x2="1075.1" y2="1696.89"/><line x1="1063.55" y1="1636.16" x2="1075.1" y2="1636.16"/><line x1="1063.55" y1="1575.43" x2="1075.1" y2="1575.43"/><line x1="1063.55" y1="1514.70" x2="1075.1" y2="1514.70"/><line x1="1063.55" y1="1818.35" x2="1529.65" y2="1818.35"/><line x1="1092.35" y1="1818.35" x2="1092.35" y2="1829.80"/><line x1="1130.35" y1="1818.35" x2="1130.35" y2="1823.80"/><line x1="1162.61" y1="1818.35" x2="1162.61" y2="1829.80"/><line x1="1200.61" y1="1818.35" x2="1200.61" y2="1823.80"/><line x1="1232.87" y1="1818.35" x2="1232.87" y2="1829.80"/><line x1="1270.87" y1="1818.35" x2="1270.87" y2="1823.80"/><line x1="1303.13" y1="1818.35" x2="1303.13" y2="1829.80"/><line x1="1341.13" y1="1818.35" x2="1341.13" y2="1823.80"/><line x1="1373.39" y1="1818.35" x2="1373.39" y2="1829.80"/><line x1="1411.39" y1="1818.35" x2="1411.39" y2="1823.80"/><line x1="1443.65" y1="1818.35" x2="1443.65" y2="1829.80"/><line x1="1481.65" y1="1818.35" x2="1481.65" y2="1823.80"/><line x1="1513.91" y1="1818.35" x2="1513.91" y2="1829.80"/></g>
<g font-family="'Liberation Sans', Arial, Helvetica, sans-serif" font-weight="bold" stroke="#000" stroke-width="0.35" font-size="23.5" letter-spacing="0" fill="#000"><text x="1057.40" y="1827.65" text-anchor="end">0</text><text x="1057.40" y="1766.92" text-anchor="end">20</text><text x="1057.40" y="1706.19" text-anchor="end">40</text><text x="1057.40" y="1645.46" text-anchor="end">60</text><text x="1057.40" y="1584.73" text-anchor="end">80</text><text x="1057.40" y="1524.00" text-anchor="end">100</text><text x="1092.3" y="1857.8" text-anchor="middle">12</text><text x="1162.6" y="1857.8" text-anchor="middle">14</text><text x="1232.9" y="1857.8" text-anchor="middle">16</text><text x="1303.1" y="1857.8" text-anchor="middle">18</text><text x="1373.4" y="1857.8" text-anchor="middle">20</text><text x="1443.6" y="1857.8" text-anchor="middle">22</text><text x="1513.9" y="1857.8" text-anchor="middle">24</text></g>
<text font-family="'Liberation Sans', Arial, Helvetica, sans-serif" font-weight="bold" stroke="#000" stroke-width="0.35" font-size="26" transform="translate(1303.7,1894.6) scale(0.945,1)" text-anchor="middle">Weeks post-engraftment</text>
<g font-family="'Liberation Sans', Arial, Helvetica, sans-serif" font-weight="bold" stroke="#000" stroke-width="0.35" font-size="25.5" text-anchor="middle"><text transform="translate(974.5,1666.5) rotate(-90) scale(0.96,1)">% hCD4+ Cells</text><text transform="translate(1004.8,1666.5) rotate(-90) scale(0.96,1)">(% of hCD3+ Cells)</text></g>
<g><circle cx="1077.9" cy="1567.2" r="6.00" fill="#FFBA38"/><circle cx="1148.1" cy="1584.0" r="6.00" fill="#FFBA38"/><circle cx="1254.8" cy="1786.1" r="6.00" fill="#FFBA38"/><circle cx="1076.0" cy="1544.2" r="6.00" fill="#FF2200"/><circle cx="1146.1" cy="1572.7" r="6.00" fill="#FF2200"/><circle cx="1251.5" cy="1593.0" r="6.00" fill="#FF2200"/><circle cx="1391.8" cy="1585.2" r="6.00" fill="#FF2200"/><circle cx="1077.2" cy="1536.7" r="6.00" fill="#FF8C00"/><circle cx="1147.8" cy="1544.0" r="6.00" fill="#FF8C00"/><circle cx="1252.7" cy="1570.1" r="6.00" fill="#FF8C00"/><circle cx="1393.7" cy="1599.3" r="6.00" fill="#FF8C00"/><circle cx="1081.0" cy="1514.7" r="6.00" fill="#088A48"/><circle cx="1151.0" cy="1648.0" r="6.00" fill="#088A48"/><circle cx="1256.3" cy="1626.4" r="6.00" fill="#088A48"/><circle cx="1396.8" cy="1575.1" r="6.00" fill="#088A48"/><circle cx="1084.3" cy="1560.3" r="6.00" fill="#0A28FF"/><circle cx="1154.2" cy="1559.2" r="6.00" fill="#0A28FF"/><circle cx="1259.6" cy="1662.8" r="6.00" fill="#0A28FF"/><circle cx="1082.0" cy="1583.7" r="6.00" fill="#00EE00"/><circle cx="1152.7" cy="1573.0" r="6.00" fill="#00EE00"/><circle cx="1258.3" cy="1579.9" r="6.00" fill="#00EE00"/><circle cx="1328.2" cy="1617.7" r="6.00" fill="#00EE00"/><circle cx="1085.7" cy="1540.0" r="6.00" fill="#008EFF"/><circle cx="1155.9" cy="1577.1" r="6.00" fill="#008EFF"/><circle cx="1261.2" cy="1579.4" r="6.00" fill="#008EFF"/><circle cx="1085.7" cy="1567.9" r="6.00" fill="#8C33FF"/><circle cx="1157.1" cy="1613.2" r="6.00" fill="#8C33FF"/><circle cx="1262.9" cy="1649.0" r="6.00" fill="#8C33FF"/><circle cx="1333.0" cy="1706.1" r="6.00" fill="#8C33FF"/><rect x="1083.0" y="1611.9" width="12.0" height="12.0" fill="#FF2200"/><rect x="1153.3" y="1576.5" width="12.0" height="12.0" fill="#FF2200"/><rect x="1258.5" y="1565.6" width="12.0" height="12.0" fill="#FF2200"/><rect x="1398.9" y="1570.0" width="12.0" height="12.0" fill="#FF2200"/><rect x="1084.7" y="1646.9" width="12.0" height="12.0" fill="#FF8C00"/><rect x="1154.8" y="1580.8" width="12.0" height="12.0" fill="#FF8C00"/><rect x="1259.2" y="1567.3" width="12.0" height="12.0" fill="#FF8C00"/><rect x="1400.6" y="1601.5" width="12.0" height="12.0" fill="#FF8C00"/><rect x="1083.5" y="1576.8" width="12.0" height="12.0" fill="#FFD326"/><rect x="1155.6" y="1581.6" width="12.0" height="12.0" fill="#FFD326"/><rect x="1087.8" y="1646.9" width="12.0" height="12.0" fill="#088A48"/><rect x="1158.0" y="1611.8" width="12.0" height="12.0" fill="#088A48"/><rect x="1263.2" y="1605.7" width="12.0" height="12.0" fill="#088A48"/><rect x="1403.9" y="1622.1" width="12.0" height="12.0" fill="#088A48"/><rect x="1089.8" y="1563.8" width="12.0" height="12.0" fill="#00EE00"/><rect x="1159.9" y="1557.8" width="12.0" height="12.0" fill="#00EE00"/><rect x="1265.0" y="1568.2" width="12.0" height="12.0" fill="#00EE00"/><rect x="1091.1" y="1576.3" width="12.0" height="12.0" fill="#0A28FF"/><rect x="1161.2" y="1603.4" width="12.0" height="12.0" fill="#0A28FF"/><rect x="1266.6" y="1617.8" width="12.0" height="12.0" fill="#0A28FF"/><rect x="1336.9" y="1600.2" width="12.0" height="12.0" fill="#0A28FF"/><rect x="1407.0" y="1573.7" width="12.0" height="12.0" fill="#0A28FF"/><rect x="1093.0" y="1534.9" width="12.0" height="12.0" fill="#008EFF"/><rect x="1163.0" y="1539.0" width="12.0" height="12.0" fill="#008EFF"/><rect x="1094.7" y="1534.5" width="9.0" height="9.0" fill="#8C33FF"/><polygon points="1096.1,1533.9 1107.9,1533.9 1102.0,1545.1" fill="#FF2200"/><polygon points="1099.5,1536.5 1108.0,1536.5 1103.7,1544.5" fill="#FF8C00"/><polygon points="1100.8,1523.8 1112.6,1523.8 1106.7,1535.0" fill="#008EFF"/><polygon points="1171.4,1546.0 1183.2,1546.0 1177.3,1557.2" fill="#008EFF"/></g>
</svg></body></html>
